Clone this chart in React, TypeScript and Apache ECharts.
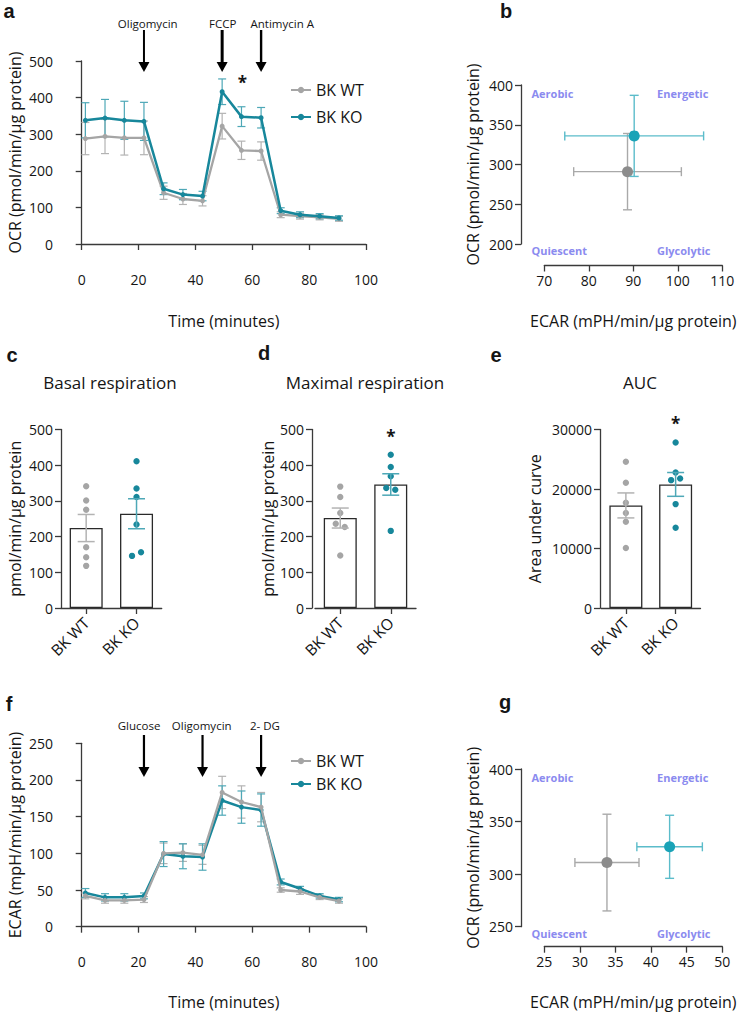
import React, { useEffect, useRef } from "react";
import * as echarts from "echarts";

// ---------- DATA ----------
const TIME = [1.3, 8.2, 15.0, 21.9, 28.8, 35.6, 42.5, 49.4, 56.2, 63.1, 70.0, 76.8, 83.7, 90.5];

const OCR_WT = [288, 294, 290, 290, 140, 123, 118, 322, 256, 254, 80, 76, 73, 69];
const OCR_WT_SEM = [44, 47, 47, 46, 18, 15, 14, 35, 25, 25, 8, 8, 7, 7];
const OCR_KO = [338, 344, 338, 335, 151, 135, 131, 416, 348, 345, 91, 80, 76, 71];
const OCR_KO_SEM = [48, 51, 52, 52, 16, 14, 13, 35, 27, 28, 8, 8, 7, 6];

const ECAR_WT = [42, 36, 36, 37, 100, 101, 98, 183, 170, 163, 50, 48, 40, 35];
const ECAR_WT_SEM = [4, 4, 4, 4, 14, 12, 13, 22, 22, 20, 3, 4, 3, 3];
const ECAR_KO = [46, 40, 40, 42, 99, 96, 95, 172, 163, 159, 61, 52, 42, 37];
const ECAR_KO_SEM = [6, 5, 5, 4, 17, 17, 18, 20, 22, 22, 4, 3, 3, 3];

// phenotype: [ECAR, OCR, ECAR_SEM, OCR_SEM]
const PHENO_B_WT = [88.7, 291, 12.1, 48];
const PHENO_B_KO = [90.2, 336, 15.6, 51];
const PHENO_G_WT = [33.8, 311, 4.5, 46];
const PHENO_G_KO = [42.6, 326, 4.6, 30];

const GROUPS = ["BK WT", "BK KO"];

const BASAL_WT = [341, 301, 275, 170, 142, 118];
const BASAL_KO = [411, 335, 311, 234, 146, 156];
const BASAL_KO_JIT = [0, 0, 0, 0, -1, 1];
const BASAL_MEAN = [224, 264];
const BASAL_SEM = [38, 42];

const MAX_WT = [340, 311, 266, 236, 227, 147];
const MAX_WT_JIT = [0, 0, 0, -1, 1, 0];
const MAX_KO = [429, 395, 369, 336, 331, 216];
const MAX_KO_JIT = [0, 0, 0, -1, 1, 0];
const MAX_MEAN = [252, 346];
const MAX_SEM = [28, 30];

const AUC_WT = [24570, 21050, 17690, 15950, 14500, 10080];
const AUC_KO = [27820, 22780, 21490, 21770, 17460, 13490];
const AUC_KO_JIT = [0, 0, -1, 1, 0, 0];
const AUC_MEAN = [17240, 20770];
const AUC_SEM = [2100, 2000];

const OCR_TICKS = { min: 0, max: 500, interval: 100 };
const ECAR_TICKS = { min: 0, max: 250, interval: 50 };
const TIME_TICKS = { min: 0, max: 100, interval: 20 };

// ---------- STYLE ----------
const FONT = "'Open Sans', sans-serif";
const WT = "#a5a5a5";
const WT_ERR = "#b3b3b3";
const KO = "#17879b";
const KO_ERR = "#4ea8b7";
const WT_PT = "#8c8c8c";
const KO_PT = "#1aa3b7";
const QUAD = "#8b8bef";
const INK = "#151515";
const AX = "#3a3a3a";

const axisBase = {
  axisLine: { show: true, lineStyle: { color: AX, width: 1.3 } },
  axisTick: { show: true, length: 6, lineStyle: { color: AX, width: 1.3 } },
  axisLabel: { color: INK, fontSize: 14, fontFamily: FONT, formatter: (v: any) => String(v) },
  splitLine: { show: false },
  nameTextStyle: { color: INK, fontSize: 16, fontFamily: FONT },
  nameLocation: "middle",
};

function yAx(gridIndex: number, t: any, name: string, nameGap: number, offset = 0) {
  return { ...axisBase, gridIndex, type: "value", ...t, name, nameGap, nameRotate: 90, offset };
}
function xAx(gridIndex: number, t: any, name: string, nameGap: number, offset = 0) {
  return { ...axisBase, gridIndex, type: "value", ...t, name, nameGap, offset };
}
function catAx(gridIndex: number) {
  return {
    ...axisBase,
    gridIndex,
    type: "category",
    data: GROUPS,
    axisTick: { ...axisBase.axisTick, alignWithLabel: true },
    axisLabel: { color: INK, fontSize: 15.5, fontFamily: FONT, rotate: 45, margin: 12 },
  };
}

const zip = (a: number[], b: number[]) => a.map((v, i) => [v, b[i]]);
const zip3 = (a: number[], b: number[], c: number[]) => a.map((v, i) => [v, b[i], c[i]]);

function errV(color: string, cap: number, w = 1.3) {
  return (params: any, api: any) => {
    const x = api.value(0), m = api.value(1), s = api.value(2);
    const t = api.coord([x, m + s]);
    const b = api.coord([x, m - s]);
    const st = { stroke: color, lineWidth: w };
    return {
      type: "group",
      children: [
        { type: "line", shape: { x1: t[0], y1: t[1], x2: b[0], y2: b[1] }, style: st },
        { type: "line", shape: { x1: t[0] - cap, y1: t[1], x2: t[0] + cap, y2: t[1] }, style: st },
        { type: "line", shape: { x1: b[0] - cap, y1: b[1], x2: b[0] + cap, y2: b[1] }, style: st },
      ],
    };
  };
}

function pheno(color: string, ptColor: string) {
  return (params: any, api: any) => {
    const x = api.value(0), y = api.value(1), xe = api.value(2), ye = api.value(3);
    const c = api.coord([x, y]);
    const l = api.coord([x - xe, y]);
    const r = api.coord([x + xe, y]);
    const t = api.coord([x, y + ye]);
    const b = api.coord([x, y - ye]);
    const cap = 4.5;
    const st = { stroke: color, lineWidth: 1.4 };
    return {
      type: "group",
      children: [
        { type: "line", shape: { x1: l[0], y1: l[1], x2: r[0], y2: r[1] }, style: st },
        { type: "line", shape: { x1: l[0], y1: l[1] - cap, x2: l[0], y2: l[1] + cap }, style: st },
        { type: "line", shape: { x1: r[0], y1: r[1] - cap, x2: r[0], y2: r[1] + cap }, style: st },
        { type: "line", shape: { x1: t[0], y1: t[1], x2: b[0], y2: b[1] }, style: st },
        { type: "line", shape: { x1: t[0] - cap, y1: t[1], x2: t[0] + cap, y2: t[1] }, style: st },
        { type: "line", shape: { x1: b[0] - cap, y1: b[1], x2: b[0] + cap, y2: b[1] }, style: st },
        { type: "circle", shape: { cx: c[0], cy: c[1], r: 5.5 }, style: { fill: ptColor } },
      ],
    };
  };
}

function dots(color: string) {
  return (params: any, api: any) => {
    const p = api.coord([api.value(0), api.value(1)]);
    const j = api.value(2) || 0;
    return { type: "circle", shape: { cx: p[0] + j * 4.5, cy: p[1], r: 3.2 }, style: { fill: color } };
  };
}

function barSeries(gi: number, mean: number[], sem: number[], wt: number[], ko: number[], wtJ: number[] | null, koJ: number[] | null) {
  const wtData = wt.map((v, i) => [0, v, wtJ ? wtJ[i] : 0]);
  const koData = ko.map((v, i) => [1, v, koJ ? koJ[i] : 0]);
  return [
    {
      type: "bar",
      xAxisIndex: gi,
      yAxisIndex: gi,
      data: mean,
      barWidth: 33,
      itemStyle: { color: "#fff", borderColor: "#2a2a2a", borderWidth: 1.3 },
      z: 1,
    },
    { type: "custom", xAxisIndex: gi, yAxisIndex: gi, data: wtData, renderItem: dots(WT), encode: { x: 0, y: 1 }, z: 3 },
    { type: "custom", xAxisIndex: gi, yAxisIndex: gi, data: koData, renderItem: dots(KO), encode: { x: 0, y: 1 }, z: 3 },
    {
      type: "custom",
      xAxisIndex: gi,
      yAxisIndex: gi,
      data: [[0, mean[0], sem[0]]],
      renderItem: errV(WT_ERR, 8.5, 1.5),
      encode: { x: 0, y: 1 },
      z: 4,
    },
    {
      type: "custom",
      xAxisIndex: gi,
      yAxisIndex: gi,
      data: [[1, mean[1], sem[1]]],
      renderItem: errV(KO_ERR, 8.5, 1.5),
      encode: { x: 0, y: 1 },
      z: 4,
    },
  ];
}

function lineSeries(gi: number, wt: number[], wtSem: number[], ko: number[], koSem: number[]) {
  return [
    {
      type: "custom", xAxisIndex: gi, yAxisIndex: gi, data: zip3(TIME, wt, wtSem),
      renderItem: errV(WT_ERR, 4, 1.2), encode: { x: 0, y: 1 }, z: 2,
    },
    {
      type: "custom", xAxisIndex: gi, yAxisIndex: gi, data: zip3(TIME, ko, koSem),
      renderItem: errV(KO_ERR, 4, 1.2), encode: { x: 0, y: 1 }, z: 2,
    },
    {
      type: "line", name: "BK WT", xAxisIndex: gi, yAxisIndex: gi, data: zip(TIME, wt),
      color: WT, lineStyle: { width: 2.3 }, symbol: "circle", symbolSize: 5, z: 3,
    },
    {
      type: "line", name: "BK KO", xAxisIndex: gi, yAxisIndex: gi, data: zip(TIME, ko),
      color: KO, lineStyle: { width: 2.5 }, symbol: "circle", symbolSize: 5, z: gi === 0 ? 4 : 2,
    },
  ];
}

function buildOption() {
  const legendBase = {
    orient: "vertical",
    itemWidth: 20,
    itemHeight: 8,
    textStyle: { fontSize: 16, fontFamily: FONT, color: INK },
    data: ["BK WT", "BK KO"],
    selectedMode: false,
  };
  return {
    animation: false,
    backgroundColor: "#fff",
    grid: [
      { left: 81.7, top: 61, width: 284.3, height: 183 },
      { left: 544.3, top: 85, width: 178, height: 159 },
      { left: 61, top: 429.5, width: 100.7, height: 178.5 },
      { left: 315, top: 429.5, width: 101, height: 178.5 },
      { left: 601, top: 429.5, width: 99.5, height: 178.5 },
      { left: 81.7, top: 743.3, width: 284.3, height: 183.4 },
      { left: 544.3, top: 769, width: 178, height: 157.7 },
    ],
    legend: [
      { ...legendBase, left: 285, top: 77, itemGap: 11 },
      { ...legendBase, left: 285, top: 748, itemGap: 7 },
    ],
    xAxis: [
      xAx(0, TIME_TICKS, "Time (minutes)", 48, 20.5),
      xAx(1, { min: 70, max: 110, interval: 10 }, "ECAR (mPH/min/µg protein)", 47, 21.5),
      catAx(2),
      catAx(3),
      catAx(4),
      xAx(5, TIME_TICKS, "Time (minutes)", 47, 20),
      xAx(6, { min: 25, max: 50, interval: 5 }, "ECAR (mPH/min/µg protein)", 47, 20),
    ],
    yAxis: [
      yAx(0, OCR_TICKS, "OCR (pmol/min/µg protein)", 38, 20.7),
      yAx(1, { min: 200, max: 400, interval: 50 }, "OCR (pmol/min/µg protein)", 40, 23.3),
      yAx(2, OCR_TICKS, "pmol/min/µg protein", 38, 0),
      yAx(3, OCR_TICKS, "pmol/min/µg protein", 35, 3),
      yAx(4, { min: 0, max: 30000, interval: 10000 }, "Area under curve", 57, 1),
      yAx(5, ECAR_TICKS, "ECAR (mpH/min/µg protein)", 38, 20.7),
      yAx(6, { min: 250, max: 400, interval: 50 }, "OCR (pmol/min/µg protein)", 40, 23.3),
    ],
    series: [
      ...lineSeries(0, OCR_WT, OCR_WT_SEM, OCR_KO, OCR_KO_SEM),
      { type: "custom", xAxisIndex: 1, yAxisIndex: 1, data: [PHENO_B_WT], renderItem: pheno("#a9a9a9", WT_PT), encode: { x: 0, y: 1 }, z: 2 },
      { type: "custom", xAxisIndex: 1, yAxisIndex: 1, data: [PHENO_B_KO], renderItem: pheno("#5bbcca", KO_PT), encode: { x: 0, y: 1 }, z: 3 },
      ...barSeries(2, BASAL_MEAN, BASAL_SEM, BASAL_WT, BASAL_KO, null, BASAL_KO_JIT),
      ...barSeries(3, MAX_MEAN, MAX_SEM, MAX_WT, MAX_KO, MAX_WT_JIT, MAX_KO_JIT),
      ...barSeries(4, AUC_MEAN, AUC_SEM, AUC_WT, AUC_KO, null, AUC_KO_JIT),
      ...lineSeries(5, ECAR_WT, ECAR_WT_SEM, ECAR_KO, ECAR_KO_SEM),
      { type: "custom", xAxisIndex: 6, yAxisIndex: 6, data: [PHENO_G_WT], renderItem: pheno("#a9a9a9", WT_PT), encode: { x: 0, y: 1 }, z: 2 },
      { type: "custom", xAxisIndex: 6, yAxisIndex: 6, data: [PHENO_G_KO], renderItem: pheno("#5bbcca", KO_PT), encode: { x: 0, y: 1 }, z: 3 },
    ],
  };
}

function txt(text: string, x: number, y: number, opt: any = {}) {
  return {
    type: "text",
    x,
    y,
    style: {
      text,
      fill: opt.fill || INK,
      font: `${opt.weight || "normal"} ${opt.size || 14}px ${opt.family || FONT}`,
      textAlign: opt.align || "center",
      textVerticalAlign: "middle",
    },
    z: 10,
  };
}

function arrow(x: number, y1: number, y2: number, w: number) {
  const hw = 5.5, hh = 10;
  return {
    type: "group",
    z: 10,
    children: [
      { type: "line", shape: { x1: x, y1, x2: x, y2: y2 - hh + 1 }, style: { stroke: "#000", lineWidth: w } },
      { type: "polygon", shape: { points: [[x - hw, y2 - hh], [x + hw, y2 - hh], [x, y2]] }, style: { fill: "#000" } },
    ],
  };
}

function buildGraphic(chart: any) {
  const px = (gi: number, x: any, y: number) => chart.convertToPixel({ gridIndex: gi }, [x, y]);
  const g: any[] = [];
  // panel letters
  const L = { weight: "bold", size: 20, family: "'Liberation Sans', Arial, sans-serif" };
  g.push(txt("a", 9, 11, L), txt("b", 506, 11, L), txt("c", 12, 355, L), txt("d", 264, 353, L), txt("e", 496, 355, L), txt("f", 9, 704, L), txt("g", 505, 702, L));
  // titles
  const T = { size: 17 };
  g.push(txt("Basal respiration", 110, 382, T), txt("Maximal respiration", 365, 382, T), txt("AUC", 640, 382, T));
  // panel a injections
  const D = { size: 11.5 };
  g.push(arrow(px(0, TIME[3], 0)[0], 30, 72, 2), arrow(px(0, TIME[7], 0)[0], 30, 72, 3), arrow(px(0, TIME[9], 0)[0], 30, 72, 2.4));
  g.push(txt("Oligomycin", 147.7, 23, D), txt("FCCP", 222.7, 23, D), txt("Antimycin A", 250.5, 23, { ...D, align: "left" }));
  g.push(txt("*", px(0, TIME[8], 0)[0] + 1, 82, { size: 17, weight: "bold" }));
  // panel f injections
  g.push(arrow(px(5, TIME[3], 0)[0], 735, 777, 2.2), arrow(px(5, TIME[6], 0)[0], 735, 777, 2.2), arrow(px(5, TIME[9], 0)[0], 735, 777, 2.2));
  g.push(txt("Glucose", 139, 725, D), txt("Oligomycin", 201.7, 725, D), txt("2- DG", 265, 725, D));
  // stars on bars
  g.push(txt("*", px(3, 1, 0)[0], 436, { size: 17, weight: "bold" }), txt("*", px(4, 1, 0)[0], 423, { size: 17, weight: "bold" }));
  // quadrant labels
  const Q = { size: 11, weight: "bold", fill: QUAD, align: "left" };
  g.push(txt("Aerobic", 531.5, 93, Q), txt("Energetic", 657, 93, Q), txt("Quiescent", 531.5, 250, Q), txt("Glycolytic", 657, 250, Q));
  g.push(txt("Aerobic", 531.5, 777, Q), txt("Energetic", 657, 777, Q), txt("Quiescent", 531.5, 933, Q), txt("Glycolytic", 657, 933, Q));
  return g;
}

export default function App() {
  const ref = useRef<HTMLDivElement>(null);
  useEffect(() => {
    const chart = echarts.init(ref.current as HTMLDivElement, null, { renderer: "svg" });
    chart.setOption(buildOption() as any);
    chart.setOption({ graphic: buildGraphic(chart) } as any);
    return () => chart.dispose();
  }, []);
  return (
    <div
      ref={ref}
      style={{ position: "absolute", left: 0, top: 0, width: 745, height: 1015, background: "#fff" }}
    />
  );
}
